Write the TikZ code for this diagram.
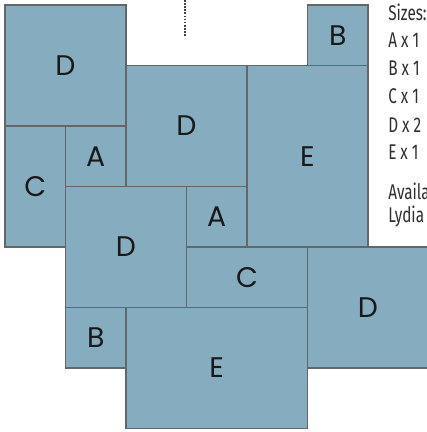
\documentclass[tikz,border=0pt]{standalone}
\usepackage{fontspec}
\usepackage{xcolor}
\newfontfamily\tilefont{Poppins}
\newfontfamily\notefont[FakeStretch=0.72]{Fira Sans}

\definecolor{tilefill}{HTML}{86ADBF}
\definecolor{tileedge}{HTML}{63676A}
\definecolor{notegray}{HTML}{2E2E2E}

\tikzset{
    tile/.style={draw=tileedge, fill=tilefill, line width=0.9pt, inner sep=0pt,
        text=black!90, font=\tilefont\fontsize{20}{20}\selectfont},
    notetext/.style={anchor=base west, inner sep=0pt, text=notegray,
        font=\notefont\fontsize{15}{15}\selectfont}
}

\begin{document}
\begin{tikzpicture}[x=1.5cm, y=-1.5cm]
    \useasboundingbox (-0.083,-0.083) rectangle (6.975,7.058);

    % Fliesen
    \foreach \n/\l/\x/\y/\w/\h in {d1/D/0/0/2/2, c1/C/0/2/1/2, a1/A/1/2/1/1,
        d2/D/2/1/2/2, b1/B/5/0/1/1, e1/E/4/1/2/3, d3/D/1/3/2/2, a2/A/3/3/1/1,
        c2/C/3/4/2/1, d4/D/5/4/2/2, b2/B/1/5/1/1, e2/E/2/5/3/2}
        \node[tile, minimum width=\w*1.5cm, minimum height=\h*1.5cm]
            (\n) at (\x+\w/2, \y+\h/2) {\l};

    % Punktlinie
    \coordinate (dot top) at (2.975,-0.083);
    \coordinate (dot end) at (2.975,0.53);
    \draw[black!75, line width=0.9pt, dash pattern=on 1.1pt off 1.1pt] (dot top) -- (dot end);

    % Legende
    \node[notetext] (sizes) at (6.33,0.264) {Sizes:};
    \foreach \n/\t/\y in {ca/A x 1/0.694, cb/B x 1/1.157, cc/C x 1/1.62,
        cd/D x 2/2.10, ce/E x 1/2.56}
        \node[notetext] (\n) at (6.33,\y) {\t};
    \node[notetext] (avail) at (6.33,3.223) {Availa};
    \node[notetext] (lydia) at (6.33,3.603) {Lydia};
\end{tikzpicture}
\end{document}
